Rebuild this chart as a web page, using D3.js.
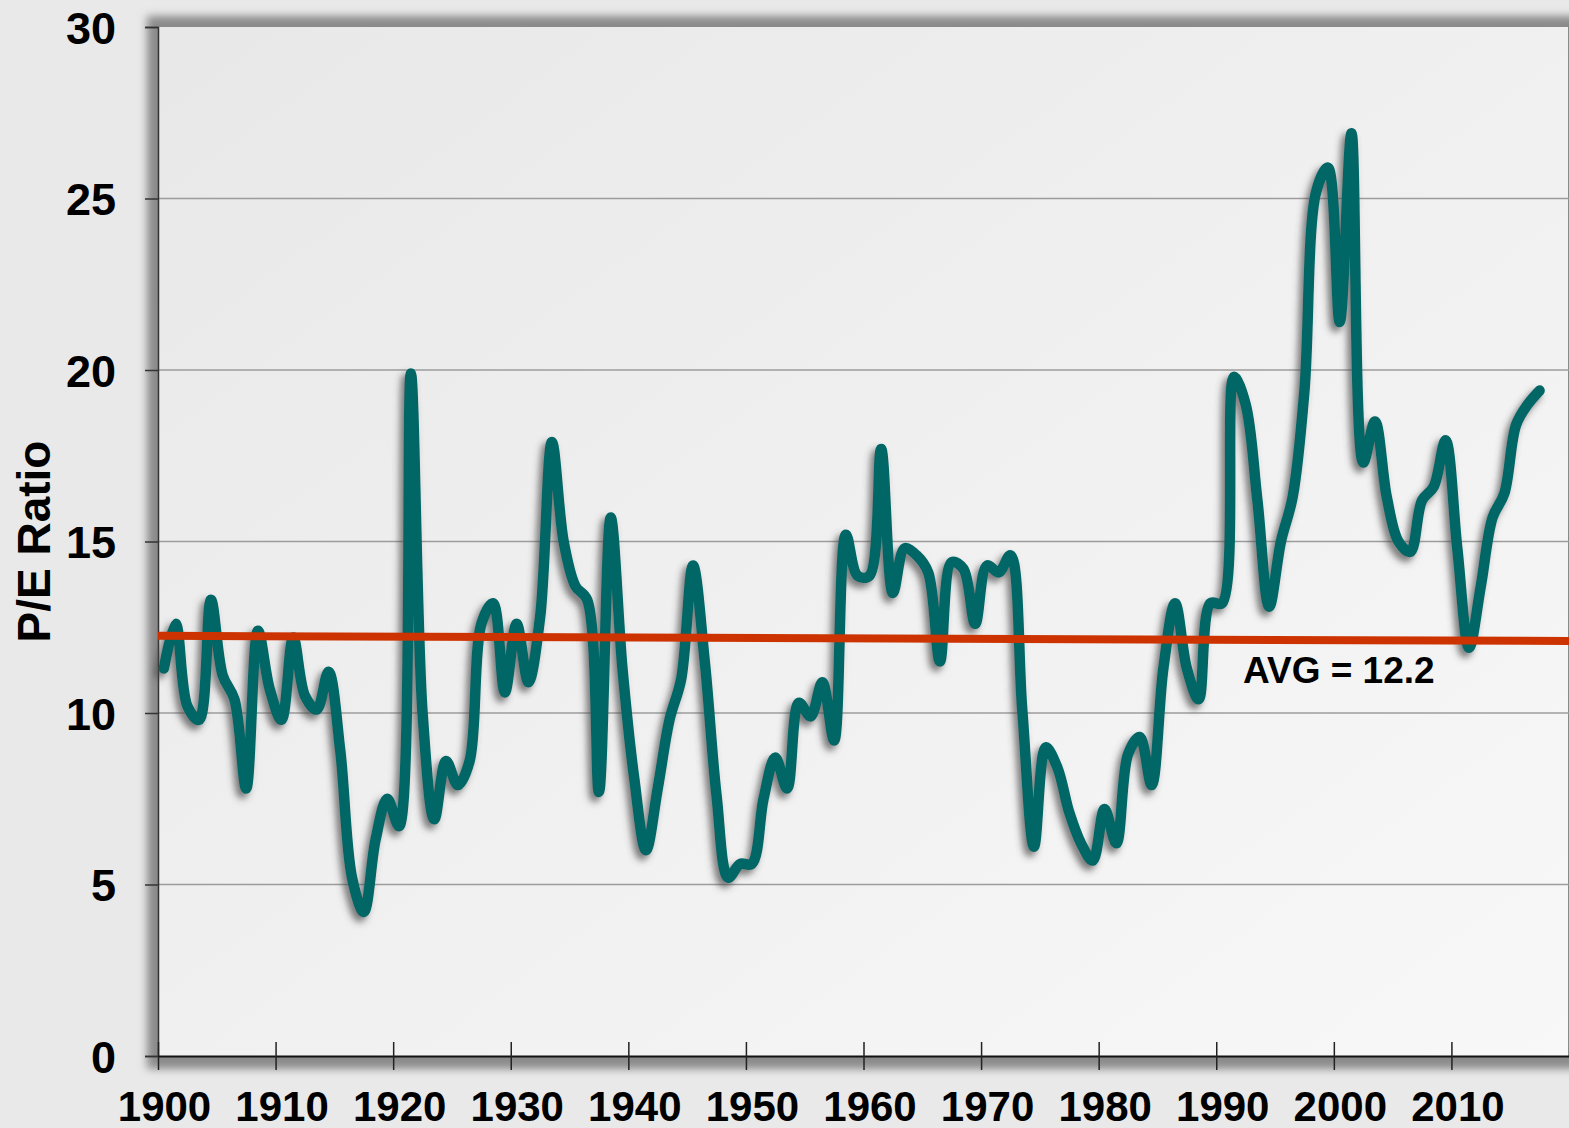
<!DOCTYPE html>
<html>
<head>
<meta charset="utf-8">
<script src="https://cdn.jsdelivr.net/npm/d3@7"></script>
<style>
  body { margin: 0; background: #e9e9e9; }
  svg { display: block; }
  text { font-family: "Liberation Sans", Arial, sans-serif; font-weight: bold; fill: #000; }
</style>
</head>
<body>
<svg id="chart" width="1569" height="1128"></svg>
<script>
// annual P/E ratio, 1900 - 2017
const startYear = 1900;
const peValues = [
  11.3, 12.6, 10.2, 9.8, 13.3, 11.1, 10.4, 7.8, 12.4, 10.7,
  9.8, 12.2, 10.5, 10.1, 11.2, 8.9, 5.2, 4.2, 6.3, 7.5,
  6.7, 19.9, 10.0, 6.9, 8.6, 7.9, 8.6, 12.6, 13.2, 10.6,
  12.6, 10.9, 12.8, 17.9, 15.0, 13.7, 13.3, 7.7, 15.7, 11.3,
  8.1, 6.0, 7.8, 9.8, 11.0, 14.3, 11.5, 7.6, 5.2, 5.6,
  5.6, 7.5, 8.7, 7.8, 10.3, 9.9, 10.9, 9.2, 15.2, 14.0,
  14.0, 17.7, 13.5, 14.8, 14.6, 14.1, 11.5, 14.4, 14.2, 12.6,
  14.3, 14.1, 14.6, 10.1, 6.1, 9.0, 8.4, 7.1, 6.2, 5.7,
  7.2, 6.2, 8.8, 9.3, 7.9, 11.3, 13.2, 11.3, 10.4, 13.2,
  13.2, 19.8, 19.0, 16.2, 13.1, 15.0, 16.3, 19.4, 25.2, 25.9,
  21.4, 26.9, 17.3, 18.5, 16.3, 15.0, 14.7, 16.2, 16.6, 17.95,
  14.8, 11.9, 13.7, 15.7, 16.4, 18.4, 19.0, 19.4
];
const avgLine = [ [1900, 12.25], [2020, 12.1] ];
const avgLabel = "AVG = 12.2";
const yTicks = [0, 5, 10, 15, 20, 25, 30];
const xTicks = [1900, 1910, 1920, 1930, 1940, 1950, 1960, 1970, 1980, 1990, 2000, 2010];

const data = peValues.map((v, i) => ({year: startYear + i, value: v}));

const margin = {left: 158, right: 0, top: 27, bottom: 72};
const width = 1569, height = 1128;

const svg = d3.select("#chart");
const defs = svg.append("defs");

const grad = defs.append("linearGradient")
  .attr("id", "plotbg")
  .attr("x1", "0%").attr("y1", "0%")
  .attr("x2", "100%").attr("y2", "100%");
grad.append("stop").attr("offset", "0%").attr("stop-color", "#e8e8e8");
grad.append("stop").attr("offset", "100%").attr("stop-color", "#f8f8f8");

const frameBlur = defs.append("filter").attr("id", "frameblur")
  .attr("x", "-5%").attr("y", "-5%").attr("width", "110%").attr("height", "110%");
frameBlur.append("feGaussianBlur").attr("stdDeviation", 4);

const lineShadow = defs.append("filter").attr("id", "lineshadow")
  .attr("x", "-5%").attr("y", "-5%").attr("width", "110%").attr("height", "110%");
lineShadow.append("feDropShadow")
  .attr("dx", -4).attr("dy", 5)
  .attr("stdDeviation", 3.5)
  .attr("flood-color", "#444")
  .attr("flood-opacity", 0.7);

const x = d3.scaleLinear()
  .domain([1900, 2020])
  .range([margin.left, width - margin.right]);

const y = d3.scaleLinear()
  .domain([0, 30])
  .range([height - margin.bottom, margin.top]);

// plot frame with its shadow
svg.append("rect")
  .attr("x", margin.left - 11)
  .attr("y", margin.top - 11)
  .attr("width", width - margin.left + 22)
  .attr("height", y(0) - margin.top + 24)
  .attr("fill", "#8a8a8a")
  .attr("filter", "url(#frameblur)");

svg.append("rect")
  .attr("x", margin.left)
  .attr("y", margin.top)
  .attr("width", width - margin.right - margin.left - 1)
  .attr("height", y(0) - margin.top)
  .attr("fill", "url(#plotbg)");

// gridlines
svg.append("g")
  .attr("id", "grid")
  .selectAll("line")
  .data(yTicks.filter(d => d > 0 && d < 30))
  .join("line")
  .attr("x1", margin.left)
  .attr("x2", width - margin.right)
  .attr("y1", d => y(d))
  .attr("y2", d => y(d))
  .attr("stroke", "#9c9c9c")
  .attr("stroke-width", 1.6);

// y axis
const yAxis = svg.append("g")
  .attr("id", "y-axis")
  .attr("transform", `translate(${margin.left}, 0)`)
  .call(d3.axisLeft(y).tickValues(yTicks).tickSize(13).tickPadding(29).tickFormat(d3.format("d")));
yAxis.select(".domain").attr("stroke", "#333").attr("stroke-width", 1.5);
yAxis.selectAll(".tick line").attr("stroke", "#333").attr("stroke-width", 1.5);
yAxis.selectAll(".tick text")
  .attr("font-size", 45)
  .attr("font-family", "Liberation Sans, Arial, sans-serif")
  .attr("font-weight", "bold")
  .attr("fill", "#000")
  .attr("dy", "0.36em");

// x axis
const xAxis = svg.append("g")
  .attr("id", "x-axis")
  .attr("transform", `translate(0, ${y(0)})`)
  .call(d3.axisBottom(x).tickValues(xTicks).tickSizeInner(14).tickSizeOuter(0).tickPadding(21).tickFormat(d3.format("d")));
xAxis.select(".domain").attr("stroke", "#111").attr("stroke-width", 2);
xAxis.selectAll(".tick line")
  .attr("y1", -14)
  .attr("y2", 14)
  .attr("stroke", "#222")
  .attr("stroke-width", 1.5);
xAxis.selectAll(".tick text")
  .attr("font-size", 42)
  .attr("font-family", "Liberation Sans, Arial, sans-serif")
  .attr("font-weight", "bold")
  .attr("fill", "#000")
  .attr("dy", "0.71em")
  .attr("x", 6);

// y axis title
svg.append("text")
  .attr("transform", `translate(50, ${(margin.top + y(0)) / 2}) rotate(-90)`)
  .attr("text-anchor", "middle")
  .attr("font-size", 46)
  .text("P/E Ratio");

// P/E line
const line = d3.line()
  .x(d => x(d.year + 0.5))
  .y(d => y(d.value))
  .curve(d3.curveCatmullRom.alpha(0.5));

svg.append("path")
  .datum(data)
  .attr("fill", "none")
  .attr("stroke", "#006666")
  .attr("stroke-width", 10.5)
  .attr("stroke-linejoin", "round")
  .attr("stroke-linecap", "round")
  .attr("filter", "url(#lineshadow)")
  .attr("d", line);

// average line
svg.append("path")
  .datum(avgLine)
  .attr("fill", "none")
  .attr("stroke", "#cc3300")
  .attr("stroke-width", 8)
  .attr("d", d3.line().x(d => x(d[0])).y(d => y(d[1])));

svg.append("text")
  .attr("x", 1243)
  .attr("y", 683)
  .attr("font-size", 37)
  .text(avgLabel);
</script>
</body>
</html>
